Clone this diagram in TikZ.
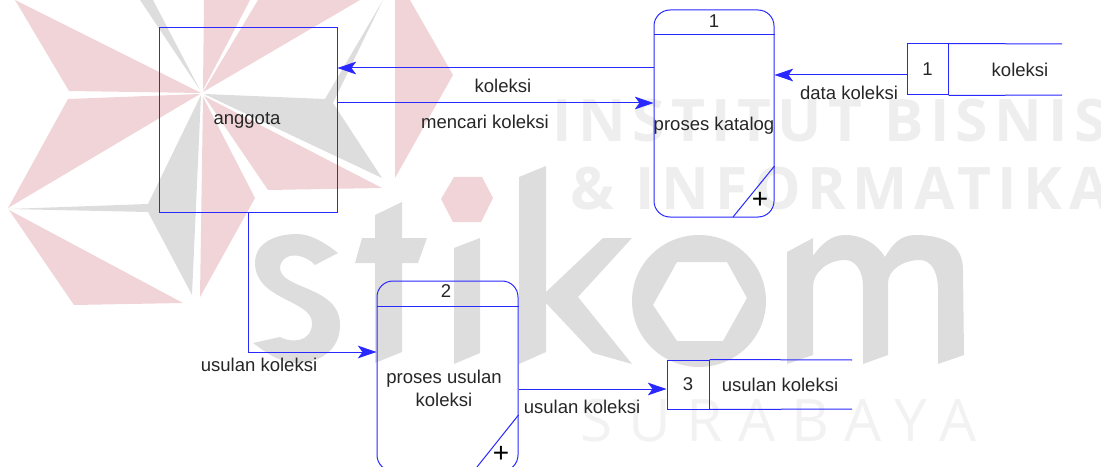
\documentclass[tikz,border=0pt]{standalone}
\usepackage{fontspec}
\setmainfont{Liberation Sans}
\newfontfamily\markfont[LetterSpace=11]{Open Sans}
\newfontfamily\markthin[LetterSpace=27]{Open Sans}
\usetikzlibrary{arrows.meta}
\definecolor{linkblue}{RGB}{40,40,255}
\definecolor{markred}{RGB}{240,212,216}
\definecolor{markgrey}{RGB}{221,221,221}
\definecolor{marklight}{RGB}{238,238,238}
\definecolor{markpale}{RGB}{242,242,242}
\tikzset{
  px/.style = {x = 0.75pt, y = -0.75pt},
  lbl/.style = {inner sep = 0pt, font = \fontsize{13.9}{17.2}\selectfont, text = black!85, align = center},
  entity/.style = {draw = linkblue, line width = 0.75pt, inner sep = 0pt},
  proc/.style = {entity, rounded corners = 12pt},
  flow/.style = {draw = linkblue, line width = 0.75pt, -{Stealth[length = 14pt, width = 9.5pt, inset = 3.5pt]}},
  wire/.style = {draw = linkblue, line width = 0.75pt}
}
\begin{document}
\begin{tikzpicture} [px]
  \useasboundingbox (0,0) rectangle (1101,467);
  \clip (0,0) rectangle (1101,467);
  % star
  \foreach \pts in {
    {(15,0) -- (201,93) -- (69,91)},
    {(68,99) -- (200,94) -- (8,208)},
    {(9,210) -- (183,303) -- (74,305)},
    {(203,97) -- (255,198) -- (200,297)},
    {(204,96) -- (382,188) -- (268,190)},
    {(203,90) -- (204,0) -- (250,0)},
    {(203,92) -- (258,0) -- (360,0)},
    {(395,0) -- (410,0) -- (453,75) -- (395,178)},
    {(441,199) -- (454,177) -- (482,177) -- (493,198) -- (481,222) -- (453,222)}}
    \fill [markred] \pts -- cycle;
  \foreach \pts in {
    {(8,209) -- (148,204) -- (201,95) -- (192,295) -- (148,212)},
    {(383,0) -- (325,99) -- (204,94) -- (382,178) -- (333,103)},
    {(140,0) -- (153,0) -- (200,90)},
    {(375,215) -- (402,202) -- (402,238) -- (427,238) -- (418,263) -- (402,263) -- (402,352) -- (375,363) -- (375,263) -- (355,263) -- (362,238) -- (375,238)},
    {(454,248) -- (480,238) -- (480,353) -- (454,364)},
    {(519,177) -- (546,166) -- (546,292) -- (603,238) -- (632,238) -- (578,297) -- (632,364) -- (593,353) -- (546,303) -- (546,352) -- (519,364)}}
    \fill [markgrey] \pts -- cycle;
  % s
  \fill [markgrey] (338,253) -- (315,265) .. controls (305,254) and (283,250) .. (280,267)
    .. controls (279,290) and (340,285) .. (340,325) .. controls (340,350) and (320,363) .. (297,363)
    .. controls (280,363) and (265,352) .. (253,343) -- (280,337) .. controls (290,343) and (312,343) .. (312,323)
    .. controls (312,300) and (255,300) .. (255,263) .. controls (255,243) and (275,234) .. (297,234)
    .. controls (312,234) and (328,245) .. (338,253) -- cycle;
  % o
  \fill [markgrey, even odd rule] (699,301) ellipse [x radius = 67, y radius = 66]
    (653,305) -- (677,262) -- (727,262) -- (747,298) -- (723,341) -- (677,341) -- cycle;
  % m
  \fill [markgrey] (787,252) -- (813,238) -- (813,256) .. controls (822,243) and (832,235) .. (845,235)
    .. controls (862,235) and (876,243) .. (885,257) .. controls (892,245) and (900,235) .. (915,235)
    .. controls (945,235) and (963,245) .. (963,270) -- (964,355) -- (938,364) -- (938,290)
    .. controls (938,270) and (930,260) .. (920,260) .. controls (903,260) and (888,270) .. (888,283)
    -- (888,355) -- (863,364) -- (863,287) .. controls (863,270) and (855,260) .. (845,260)
    .. controls (828,260) and (813,272) .. (813,287) -- (813,355) -- (787,364) -- cycle;
  \node (markone) [anchor = west, inner sep = 0pt, text = marklight, font = \markfont\bfseries\fontsize{44}{44}\selectfont] at (552,121) {INSTITUT BISNIS};
  \node (marktwo) [anchor = west, inner sep = 0pt, text = marklight, font = \markfont\bfseries\fontsize{44}{44}\selectfont] at (570,189) {\& INFORMATIKA};
  \node (markthree) [anchor = west, inner sep = 0pt, text = markpale, font = \markthin\fontsize{44}{44}\selectfont] at (580,421) {SURABAYA};

  \node (anggota) [entity, minimum width = 133.5pt, minimum height = 138pt] at (248,120) {};
  \node (proca) [proc, minimum width = 90pt, minimum height = 155.25pt] at (714,113.5) {};
  \node (procb) [proc, minimum width = 105.75pt, minimum height = 142.5pt] at (447.5,376) {};
  \node (storea) [entity, minimum width = 30.75pt, minimum height = 38.25pt, lbl] at (927.5,69.5) {1};
  \node (storec) [entity, minimum width = 31.5pt, minimum height = 36.75pt, lbl] at (688,384.5) {3};
  \coordinate (endat) at (1062,44);
  \coordinate (endab) at (1062,95);
  \coordinate (endct) at (852,360);
  \coordinate (endcb) at (852,409);
  \coordinate (bend) at (248,352);

  \node (txtanggota) [lbl] at (247,120) {anggota};
  \node (numa) [lbl] at (714,21) {1};
  \node (numb) [lbl] at (446,291) {2};
  \node (txtproca) [lbl] at (714,126) {proses katalog};
  \node (txtprocb) [lbl] at (444,388) {proses usulan\\koleksi};
  \node (txtstorea) [lbl] at (1020,70) {koleksi};
  \node (txtstorec) [lbl] at (780,385) {usulan koleksi};
  \node (lblkol) [lbl] at (503,86) {koleksi};
  \node (lblcari) [lbl] at (485,122) {mencari koleksi};
  \node (lbldata) [lbl] at (849,93) {data koleksi};
  \node (lblusa) [lbl] at (259,365) {usulan koleksi};
  \node (lblusb) [lbl] at (582,407) {usulan koleksi};
  \node (plusa) [inner sep = 0pt, font = \fontsize{21}{21}\selectfont] at (760,200) {+};
  \node (plusb) [inner sep = 0pt, font = \fontsize{21}{21}\selectfont] at (501,454) {+};

  % inner lines
  \draw [wire] (proca.west |- 0,35) -- (proca.east |- 0,35);
  \draw [wire] (procb.west |- 0,306) -- (procb.east |- 0,306);
  \draw [wire] (proca.east |- 0,166) -- (733,217);
  \draw [wire] (procb.east |- 0,415) -- (473,472);
  \draw [wire] (storea.north east) -- (endat);
  \draw [wire] (storea.south east) -- (endab);
  \draw [wire] (storec.north east) -- (endct);
  \draw [wire] (storec.south east) -- (endcb);

  % flows
  \draw [flow] (proca.west |- 0,68) -- (anggota.east |- 0,68);
  \draw [flow] (anggota.east |- 0,103) -- (proca.west |- 0,103);
  \draw [flow] (storea.west |- 0,75) -- (proca.east |- 0,75);
  \draw [flow] (anggota.south) -- (bend) -- (procb.west |- bend);
  \draw [flow] (procb.east |- 0,389) -- (storec.west |- 0,389);
\end{tikzpicture}
\end{document}
